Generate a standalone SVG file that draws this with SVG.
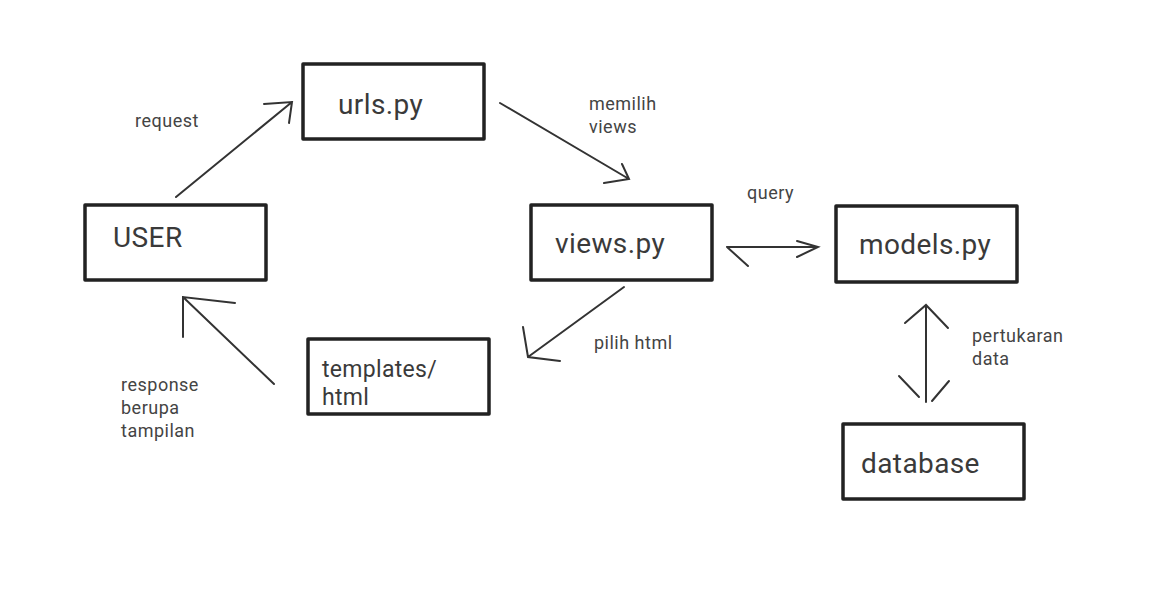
<svg xmlns="http://www.w3.org/2000/svg" width="1171" height="593" viewBox="0 0 1171 593">
<style>
.box{fill:#fff;stroke:#222;stroke-width:3.5;stroke-linejoin:round}
.big{font-family:Roboto,"Liberation Sans",sans-serif;font-size:28px;letter-spacing:0.4px;fill:#3a3a3a}
.mid{font-family:Roboto,"Liberation Sans",sans-serif;font-size:23px;letter-spacing:0.3px;fill:#3a3a3a}
.lbl{font-family:Roboto,"Liberation Sans",sans-serif;font-size:18px;letter-spacing:0.5px;fill:#444}
.c{fill:none;stroke:#333;stroke-width:2;stroke-linecap:round}
</style>
<rect width="1171" height="593" fill="#fff"/>
<g id="user"><rect class="box" x="85" y="205" width="181" height="75"/><text class="big" x="113" y="247">USER</text></g>
<g id="urls"><rect class="box" x="303" y="64" width="181" height="75"/><text class="big" x="338" y="114">urls.py</text></g>
<g id="views"><rect class="box" x="531" y="205" width="181" height="75"/><text class="big" x="555" y="253">views.py</text></g>
<g id="models"><rect class="box" x="836" y="206" width="181" height="76"/><text class="big" x="859" y="254">models.py</text></g>
<g id="templates"><rect class="box" x="308" y="339" width="181" height="75"/><text class="mid" x="322" y="377">templates/</text><text class="mid" x="322" y="405">html</text></g>
<g id="database"><rect class="box" x="843" y="424" width="181" height="75"/><text class="big" x="861" y="473">database</text></g>
<g id="connectors">
<path class="c" d="M176,197 L292,102 M264,104 L292,102 L289,123"/>
<path class="c" d="M500,103 L629,179 M604,183 L629,179 L622,164"/>
<path class="c" d="M727,247 L818,247 M727,247 L748,266 M797,241 L818,247 L797,257"/>
<path class="c" d="M624,287 L528,357 M523,327 L528,357 L560,361"/>
<path class="c" d="M274,384 L183,297 M183,337 L183,297 L235,303"/>
<path class="c" d="M926,305 L926,402 M905,323 L926,305 L948,328 M899,376 L919,397 M949,381 L932,401"/>
</g>
<g id="labels">
<text class="lbl" x="135" y="127">request</text>
<text class="lbl" x="589" y="110">memilih</text>
<text class="lbl" x="589" y="133">views</text>
<text class="lbl" x="747" y="199">query</text>
<text class="lbl" x="594" y="349">pilih html</text>
<text class="lbl" x="121" y="391">response</text>
<text class="lbl" x="121" y="414">berupa</text>
<text class="lbl" x="121" y="437">tampilan</text>
<text class="lbl" x="972" y="342">pertukaran</text>
<text class="lbl" x="972" y="365">data</text>
</g>
</svg>
